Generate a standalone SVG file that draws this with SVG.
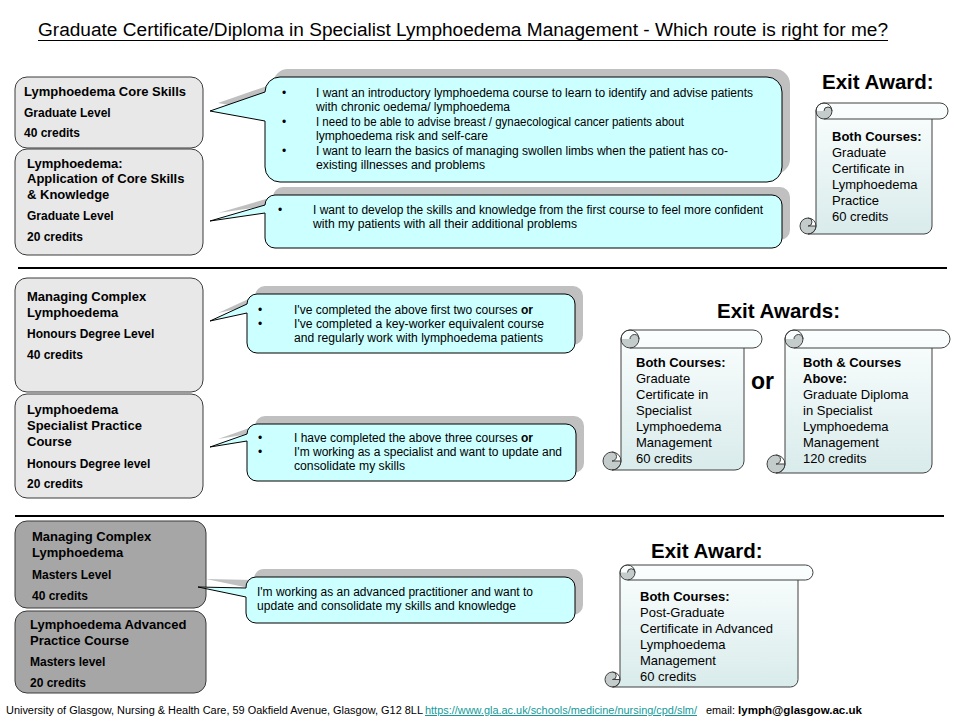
<svg xmlns="http://www.w3.org/2000/svg" width="960" height="720" viewBox="0 0 960 720">
<defs>
<linearGradient id="scrollFill" x1="0" y1="0" x2="0" y2="1">
<stop offset="0" stop-color="#fbfefe"/>
<stop offset="1" stop-color="#d9ebeb"/>
</linearGradient>
<style>
text{font-family:"Liberation Sans",Arial,sans-serif;fill:#000}
.title{font-size:18px}
.bx{stroke:#3a3a3a;stroke-width:1}
.light{fill:#e8e8e8}
.dark{fill:#a6a6a6}
.bt{font-size:13px;font-weight:bold}
.bl{font-size:12px;font-weight:bold}
.co{fill:#ccffff;stroke:#000;stroke-width:1}
.sh{fill:#c0c0c0;stroke:none}
.ct{font-size:12px}
.b{font-weight:bold}
.ex{font-size:20.5px;font-weight:bold}
.sc{fill:url(#scrollFill);stroke:none}
.scl{fill:none;stroke:#404040;stroke-width:1}
.curl{fill:#c3cbcb;stroke:none}
.st{font-size:13px}
.sep{stroke:#000;stroke-width:2}
.ft{font-size:10px}
.link{fill:#139a9a;text-decoration:underline}
</style>
</defs>
<rect width="960" height="720" fill="#fff"/>

<g id="title">
<text class="title" x="38" y="36" textLength="850" lengthAdjust="spacingAndGlyphs">Graduate Certificate/Diploma in Specialist Lymphoedema Management - Which route is right for me?</text>
<line x1="38" y1="40.5" x2="888" y2="40.5" stroke="#000" stroke-width="1"/>
</g>

<g id="separators">
<line class="sep" x1="18" y1="268" x2="947" y2="268"/>
<line class="sep" x1="15" y1="516" x2="944" y2="516"/>
</g>

<!-- left course boxes -->
<g id="core-skills">
<rect class="bx light" x="15" y="77" width="188" height="71" rx="12"/>
<text class="bt" x="24" y="96">Lymphoedema Core Skills</text>
<text class="bl" x="24" y="117">Graduate Level</text>
<text class="bl" x="24" y="137">40 credits</text>
</g>
<g id="application">
<rect class="bx light" x="15" y="149" width="188" height="106" rx="12"/>
<text class="bt" x="27" y="167.5">Lymphoedema:</text>
<text class="bt" x="27" y="183">Application of Core Skills</text>
<text class="bt" x="27" y="198.5">&amp; Knowledge</text>
<text class="bl" x="27" y="220">Graduate Level</text>
<text class="bl" x="27" y="241">20 credits</text>
</g>
<g id="complex-honours">
<rect class="bx light" x="15" y="278" width="188" height="114" rx="12"/>
<text class="bt" x="27" y="300.5">Managing Complex</text>
<text class="bt" x="27" y="316.5">Lymphoedema</text>
<text class="bl" x="27" y="338">Honours  Degree Level</text>
<text class="bl" x="27" y="359">40 credits</text>
</g>
<g id="specialist-practice">
<rect class="bx light" x="15" y="394" width="188" height="104" rx="12"/>
<text class="bt" x="27" y="413.5">Lymphoedema</text>
<text class="bt" x="27" y="429.5">Specialist Practice</text>
<text class="bt" x="27" y="445.5">Course</text>
<text class="bl" x="27" y="468">Honours  Degree level</text>
<text class="bl" x="27" y="488">20 credits</text>
</g>
<g id="complex-masters">
<rect class="bx dark" x="15" y="521" width="191" height="87" rx="12"/>
<text class="bt" x="32" y="541">Managing Complex</text>
<text class="bt" x="32" y="557">Lymphoedema</text>
<text class="bl" x="32" y="579">Masters Level</text>
<text class="bl" x="32" y="600">40 credits</text>
</g>
<g id="advanced-practice">
<rect class="bx dark" x="15" y="611" width="191" height="82" rx="12"/>
<text class="bt" x="30" y="629">Lymphoedema Advanced</text>
<text class="bt" x="30" y="645">Practice Course</text>
<text class="bl" x="30" y="666">Masters level</text>
<text class="bl" x="30" y="687">20 credits</text>
</g>

<!-- callouts (connectors) -->
<g id="connectors">
<g id="callout1">
<path class="sh" transform="translate(8,-8)" d="M280,77H767A15,15 0 0 1 782,92V167A15,15 0 0 1 767,182H280A15,15 0 0 1 265,167V121L210,111L265,92A15,15 0 0 1 280,77Z"/>
<path class="co" d="M280,77H767A15,15 0 0 1 782,92V167A15,15 0 0 1 767,182H280A15,15 0 0 1 265,167V121L210,111L265,92A15,15 0 0 1 280,77Z"/>
<text class="ct" x="282" y="97">•</text>
<text class="ct" x="316" y="97" textLength="437" lengthAdjust="spacingAndGlyphs">I want an introductory lymphoedema course to learn to identify and advise patients</text>
<text class="ct" x="316" y="111" textLength="194" lengthAdjust="spacingAndGlyphs">with chronic oedema/ lymphoedema</text>
<text class="ct" x="282" y="126">•</text>
<text class="ct" x="316" y="126" textLength="368" lengthAdjust="spacingAndGlyphs">I need to be able to advise breast / gynaecological cancer patients about</text>
<text class="ct" x="316" y="140" textLength="172" lengthAdjust="spacingAndGlyphs">lymphoedema risk and self-care</text>
<text class="ct" x="282" y="155">•</text>
<text class="ct" x="316" y="155" textLength="412" lengthAdjust="spacingAndGlyphs">I want to  learn the basics of managing swollen limbs when the patient has co-</text>
<text class="ct" x="316" y="169" textLength="169" lengthAdjust="spacingAndGlyphs">existing illnesses and problems</text>
</g>
<g id="callout2">
<path class="sh" transform="translate(8,-8)" d="M275,195H772A10,10 0 0 1 782,205V238A10,10 0 0 1 772,248H275A10,10 0 0 1 265,238V213L210,221L265,205A10,10 0 0 1 275,195Z"/>
<path class="co" d="M275,195H772A10,10 0 0 1 782,205V238A10,10 0 0 1 772,248H275A10,10 0 0 1 265,238V213L210,221L265,205A10,10 0 0 1 275,195Z"/>
<text class="ct" x="278" y="214">•</text>
<text class="ct" x="313" y="214" textLength="450" lengthAdjust="spacingAndGlyphs">I want to  develop the skills and knowledge from the first course to feel more confident</text>
<text class="ct" x="313" y="228" textLength="264" lengthAdjust="spacingAndGlyphs">with my patients with all their additional problems</text>
</g>
<g id="callout3">
<path class="sh" transform="translate(8,-8)" d="M257,294H565A10,10 0 0 1 575,304V343A10,10 0 0 1 565,353H257A10,10 0 0 1 247,343V313L210,321L247,304A10,10 0 0 1 257,294Z"/>
<path class="co" d="M257,294H565A10,10 0 0 1 575,304V343A10,10 0 0 1 565,353H257A10,10 0 0 1 247,343V313L210,321L247,304A10,10 0 0 1 257,294Z"/>
<text class="ct" x="258" y="314">•</text>
<text class="ct" x="294" y="314" textLength="239" lengthAdjust="spacingAndGlyphs">I've completed the above first two courses <tspan class="b">or</tspan></text>
<text class="ct" x="258" y="328">•</text>
<text class="ct" x="294" y="328" textLength="250" lengthAdjust="spacingAndGlyphs">I've completed a key-worker equivalent course</text>
<text class="ct" x="294" y="342" textLength="249" lengthAdjust="spacingAndGlyphs">and regularly work with lymphoedema patients</text>
</g>
<g id="callout4">
<path class="sh" transform="translate(8,-8)" d="M257,424H566A10,10 0 0 1 576,434V471A10,10 0 0 1 566,481H257A10,10 0 0 1 247,471V441L210,447L247,434A10,10 0 0 1 257,424Z"/>
<path class="co" d="M257,424H566A10,10 0 0 1 576,434V471A10,10 0 0 1 566,481H257A10,10 0 0 1 247,471V441L210,447L247,434A10,10 0 0 1 257,424Z"/>
<text class="ct" x="258" y="442">•</text>
<text class="ct" x="294" y="442" textLength="239" lengthAdjust="spacingAndGlyphs">I have completed the above three courses <tspan class="b">or</tspan></text>
<text class="ct" x="258" y="456">•</text>
<text class="ct" x="294" y="456" textLength="268" lengthAdjust="spacingAndGlyphs">I'm working as a specialist and want to update and</text>
<text class="ct" x="294" y="470" textLength="111" lengthAdjust="spacingAndGlyphs">consolidate my skills</text>
</g>
<g id="callout5">
<path class="sh" transform="translate(8,-8)" d="M256,577H565A10,10 0 0 1 575,587V613A10,10 0 0 1 565,623H256A10,10 0 0 1 246,613V597L198,587L246,588A10,10 0 0 1 256,577Z"/>
<path class="co" d="M256,577H565A10,10 0 0 1 575,587V613A10,10 0 0 1 565,623H256A10,10 0 0 1 246,613V597L198,587L246,588A10,10 0 0 1 256,577Z"/>
<text class="ct" x="257" y="596" textLength="276" lengthAdjust="spacingAndGlyphs">I'm working as an advanced practitioner and want to</text>
<text class="ct" x="257" y="610" textLength="259" lengthAdjust="spacingAndGlyphs">update and consolidate my skills and knowledge</text>
</g>
</g>

<!-- exit awards -->
<g id="exit-award-1">
<text class="ex" x="822" y="88.5">Exit Award:</text>
<path class="sc" d="M808,234A8,8 0 0 0 816,226L816,111A8,8 0 0 1 824,103L940,103A8,8 0 0 1 940,119L932,119L932,226A8,8 0 0 1 924,234Z"/>
<circle cx="808" cy="226" r="8" fill="#fff"/>
<path class="curl" d="M816,111A8,8 0 0 0 832,111A4,4 0 0 0 824,111Z"/>
<path class="curl" d="M816,226A8,8 0 1 1 808,218A4,4 0 0 1 808,226Z"/>
<path class="scl" d="M808,234A8,8 0 0 0 816,226L816,111A8,8 0 0 1 824,103L940,103A8,8 0 0 1 940,119L932,119L932,226A8,8 0 0 1 924,234L808,234M824,119L932,119M832,111A4,4 0 0 0 824,111"/>
<circle class="scl" cx="824" cy="111" r="8"/>
<circle class="scl" cx="808" cy="226" r="8"/>
<path class="scl" d="M808,218A4,4 0 0 1 808,226L816,226"/>
<text class="st b" x="832" y="141">Both Courses:</text>
<text class="st" x="832" y="157">Graduate</text>
<text class="st" x="832" y="173">Certificate in</text>
<text class="st" x="832" y="189">Lymphoedema</text>
<text class="st" x="832" y="205">Practice</text>
<text class="st" x="832" y="221">60 credits</text>
</g>

<g id="exit-awards-2">
<text class="ex" x="717" y="317.5">Exit Awards:</text>
<text x="751" y="389" font-size="23" font-weight="bold">or</text>
</g>
<g id="scroll-a">
<path class="sc" d="M612,470A9,9 0 0 0 621,461L621,339A9,9 0 0 1 630,330L753,330A9,9 0 0 1 753,348L744,348L744,461A9,9 0 0 1 735,470Z"/>
<circle cx="612" cy="461" r="9" fill="#fff"/>
<path class="curl" d="M621,339A9,9 0 0 0 639,339A4.5,4.5 0 0 0 630,339Z"/>
<path class="curl" d="M621,461A9,9 0 1 1 612,452A4.5,4.5 0 0 1 612,461Z"/>
<path class="scl" d="M612,470A9,9 0 0 0 621,461L621,339A9,9 0 0 1 630,330L753,330A9,9 0 0 1 753,348L744,348L744,461A9,9 0 0 1 735,470L612,470M630,348L744,348M639,339A4.5,4.5 0 0 0 630,339"/>
<circle class="scl" cx="630" cy="339" r="9"/>
<circle class="scl" cx="612" cy="461" r="9"/>
<path class="scl" d="M612,452A4.5,4.5 0 0 1 612,461L621,461"/>
<text class="st b" x="636" y="367">Both Courses:</text>
<text class="st" x="636" y="383">Graduate</text>
<text class="st" x="636" y="399">Certificate in</text>
<text class="st" x="636" y="415">Specialist</text>
<text class="st" x="636" y="431">Lymphoedema</text>
<text class="st" x="636" y="447">Management</text>
<text class="st" x="636" y="463">60 credits</text>
</g>
<g id="scroll-b">
<path class="sc" d="M776,473A9,9 0 0 0 785,464L785,339A9,9 0 0 1 794,330L941,330A9,9 0 0 1 941,348L932,348L932,464A9,9 0 0 1 923,473Z"/>
<circle cx="776" cy="464" r="9" fill="#fff"/>
<path class="curl" d="M785,339A9,9 0 0 0 803,339A4.5,4.5 0 0 0 794,339Z"/>
<path class="curl" d="M785,464A9,9 0 1 1 776,455A4.5,4.5 0 0 1 776,464Z"/>
<path class="scl" d="M776,473A9,9 0 0 0 785,464L785,339A9,9 0 0 1 794,330L941,330A9,9 0 0 1 941,348L932,348L932,464A9,9 0 0 1 923,473L776,473M794,348L932,348M803,339A4.5,4.5 0 0 0 794,339"/>
<circle class="scl" cx="794" cy="339" r="9"/>
<circle class="scl" cx="776" cy="464" r="9"/>
<path class="scl" d="M776,455A4.5,4.5 0 0 1 776,464L785,464"/>
<text class="st b" x="803" y="367">Both &amp; Courses</text>
<text class="st b" x="803" y="383">Above:</text>
<text class="st" x="803" y="399">Graduate Diploma</text>
<text class="st" x="803" y="415">in Specialist</text>
<text class="st" x="803" y="431">Lymphoedema</text>
<text class="st" x="803" y="447">Management</text>
<text class="st" x="803" y="463">120 credits</text>
</g>

<g id="exit-award-3">
<text class="ex" x="651" y="557.5">Exit Award:</text>
<path class="sc" d="M612.5,687A7.5,7.5 0 0 0 620,679.5L620,572.5A7.5,7.5 0 0 1 627.5,565L805.5,565A7.5,7.5 0 0 1 805.5,580L798,580L798,679.5A7.5,7.5 0 0 1 790.5,687Z"/>
<circle cx="612.5" cy="679.5" r="7.5" fill="#fff"/>
<path class="curl" d="M620,572.5A7.5,7.5 0 0 0 635,572.5A3.75,3.75 0 0 0 627.5,572.5Z"/>
<path class="curl" d="M620,679.5A7.5,7.5 0 1 1 612.5,672A3.75,3.75 0 0 1 612.5,679.5Z"/>
<path class="scl" d="M612.5,687A7.5,7.5 0 0 0 620,679.5L620,572.5A7.5,7.5 0 0 1 627.5,565L805.5,565A7.5,7.5 0 0 1 805.5,580L798,580L798,679.5A7.5,7.5 0 0 1 790.5,687L612.5,687M627.5,580L798,580M635,572.5A3.75,3.75 0 0 0 627.5,572.5"/>
<circle class="scl" cx="627.5" cy="572.5" r="7.5"/>
<circle class="scl" cx="612.5" cy="679.5" r="7.5"/>
<path class="scl" d="M612.5,672A3.75,3.75 0 0 1 612.5,679.5L620,679.5"/>
<text class="st b" x="640" y="601">Both Courses:</text>
<text class="st" x="640" y="617">Post-Graduate</text>
<text class="st" x="640" y="633">Certificate in Advanced</text>
<text class="st" x="640" y="649">Lymphoedema</text>
<text class="st" x="640" y="665">Management</text>
<text class="st" x="640" y="681">60 credits</text>
</g>

<g id="footer">
<text class="ft" x="6" y="714" textLength="417" lengthAdjust="spacingAndGlyphs">University of Glasgow, Nursing &amp; Health  Care,  59 Oakfield Avenue, Glasgow, G12 8LL</text>
<text class="ft link" x="425" y="714" textLength="272" lengthAdjust="spacingAndGlyphs">https://www.gla.ac.uk/schools/medicine/nursing/cpd/slm/</text>
<text class="ft" x="706" y="714" textLength="29" lengthAdjust="spacingAndGlyphs">email:</text>
<text x="738" y="714" font-size="11.5" font-weight="bold" textLength="124" lengthAdjust="spacingAndGlyphs">lymph@glasgow.ac.uk</text>
</g>
</svg>
